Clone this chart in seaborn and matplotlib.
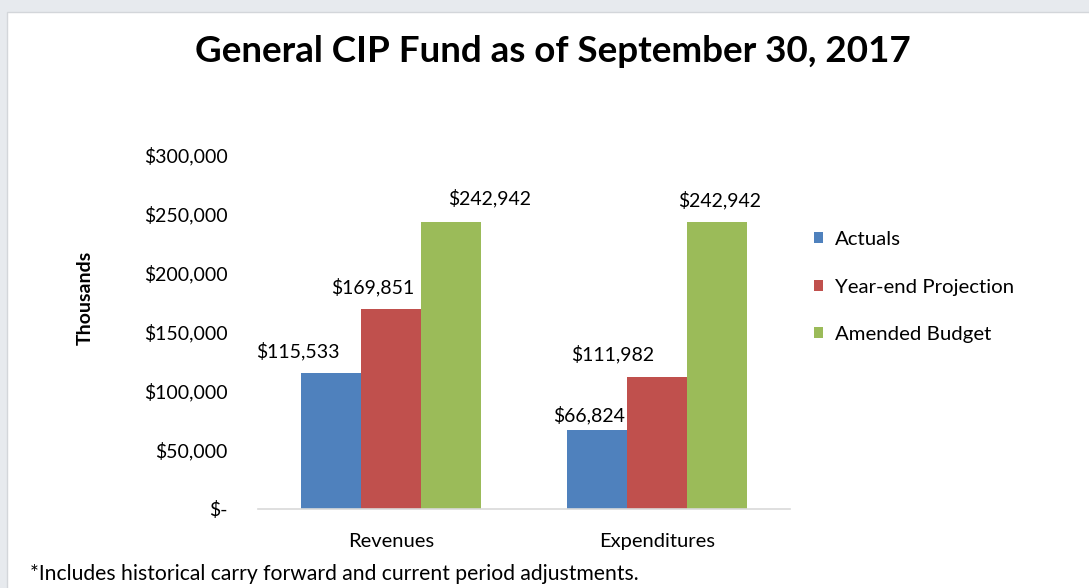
import pandas as pd
import matplotlib.pyplot as plt
import seaborn as sns
from matplotlib.patches import Rectangle

# Datos del gráfico
categories = ['Revenues', 'Expenditures']
series = ['Actuals', 'Year-end Projection', 'Amended Budget']
actuals = [115533, 66824]
projection = [169851, 111982]
budget = [242942, 242942]
colors = ['#4f81bd', '#c0504d', '#9bbb59']
yticks = [0, 50000, 100000, 150000, 200000, 250000, 300000]

# desplazamiento (px) de cada etiqueta respecto al centro de su barra, por serie
label_dx = [[-33, -8], [-18, -44], [38, 2]]
label_dy = [[22, 15], [22, 23], [24, 22]]

df = pd.DataFrame({
    'category': categories * 3,
    'series': [series[0]] * 2 + [series[1]] * 2 + [series[2]] * 2,
    'value': actuals + projection + budget,
})

sns.set_style('white')
plt.rcParams['font.family'] = ['Lato', 'DejaVu Sans']
plt.rcParams['text.color'] = 'black'
plt.rcParams['axes.labelcolor'] = 'black'
plt.rcParams['xtick.color'] = 'black'
plt.rcParams['ytick.color'] = 'black'

fig = plt.figure(figsize=(10.89, 5.88), dpi=100)
fig.patch.set_facecolor('#e7eaee')
# panel blanco del gráfico
fig.patches.append(Rectangle((7 / 1089, -0.01), 1.01, 1 - 6 / 588,
                             transform=fig.transFigure, facecolor='white',
                             edgecolor='#d3d6da', linewidth=1, zorder=-10))

ax = fig.add_axes([258 / 1089, 79 / 588, 532 / 1089, 354 / 588])
ax.set_facecolor('none')
sns.barplot(data=df, x='category', y='value', hue='series', palette=colors,
            width=0.68, saturation=1, ax=ax, edgecolor='none')

ax.set_ylim(0, 300000)
ax.set_yticks(yticks)
ax.set_yticklabels(['$-' if v == 0 else f'${v:,}' for v in yticks])
ax.tick_params(axis='y', labelsize=14, length=0, pad=22)
ax.tick_params(axis='x', labelsize=14.5, length=0, pad=17)
for s in ['top', 'right', 'left']:
    ax.spines[s].set_visible(False)
ax.spines['bottom'].set_color('#d9d9d9')
ax.spines['bottom'].set_linewidth(1.2)
ax.set_xlabel('')
ax.set_ylabel('Thousands', fontsize=14, fontweight='bold')
ax.yaxis.set_label_coords(-0.308, 0.596)

# etiquetas de datos
for i, container in enumerate(ax.containers):
    for j, bar in enumerate(container):
        v = container.datavalues[j]
        ax.annotate(f'${v:,.0f}', (bar.get_x() + bar.get_width() / 2, v),
                    xytext=(label_dx[i][j], label_dy[i][j]),
                    textcoords='offset pixels', ha='center', va='center',
                    fontsize=14)

leg = ax.legend(loc='center left', bbox_to_anchor=(1.01, 0.627), frameon=False,
                fontsize=14.7, handlelength=0.45, handleheight=0.45,
                labelspacing=1.5, handletextpad=0.6)

fig.text(553 / 1089, 1 - 52 / 588, 'General CIP Fund as of September 30, 2017',
         ha='center', va='center', fontsize=26.5, fontweight='bold')
fig.text(30 / 1089, 1 - 574 / 588,
         '*Includes historical carry forward and current period adjustments.',
         ha='left', va='center', fontsize=15.2)

fig.savefig('out.png', dpi=100)
